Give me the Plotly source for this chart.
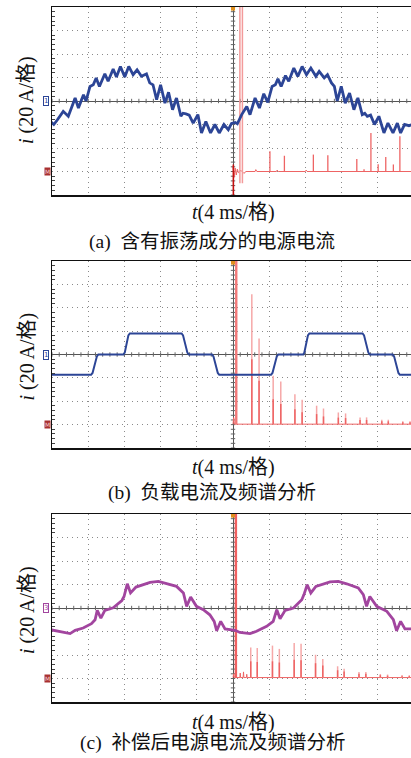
import plotly.graph_objects as go

W, H = 411, 758

# ---------------- data (units: oscilloscope divisions) ----------------
# (a) source current with oscillation
a_cur_x = [-5.05, -4.95, -4.85, -4.69, -4.55, -4.36, -4.27, -4.13, -4.06, -3.95, -3.86, -3.78, -3.69,
           -3.54, -3.45, -3.31, -3.22, -3.11, -2.99, -2.88, -2.76, -2.65, -2.53, -2.39, -2.30, -2.21,
           -2.11, -2.00, -1.88, -1.78, -1.67, -1.56, -1.44, -1.38, -1.30, -1.21, -1.10, -0.97, -0.87,
           -0.75, -0.62, -0.50, -0.38, -0.25, -0.13, -0.04, 0.06, 0.12, 0.24, 0.38, 0.47, 0.61, 0.73,
           0.85, 0.96, 1.08, 1.17, 1.24, 1.33, 1.45, 1.54, 1.68, 1.79, 1.91, 2.03, 2.15, 2.29, 2.38,
           2.52, 2.61, 2.72, 2.80, 2.88, 2.99, 3.10, 3.22, 3.34, 3.45, 3.57, 3.64, 3.71, 3.80, 3.91,
           4.03, 4.17, 4.28, 4.42, 4.54, 4.63, 4.74, 4.86, 4.95]
a_cur_y = [-0.86, -1.00, -0.80, -0.44, -0.65, 0.13, -0.30, 0.27, 0.00, 0.62, 0.69, 0.98, 0.62,
           1.16, 0.84, 1.36, 1.02, 1.47, 1.02, 1.47, 1.12, 1.33, 1.05, 1.15, 0.77, 0.69,
           0.06, 0.69, -0.09, 0.37, -0.37, 0.13, -0.65, -0.52, -0.55, -0.60, -0.94, -0.58, -1.36,
           -0.87, -1.36, -1.00, -1.36, -1.00, -1.22, -0.95, -0.91, -0.97, -0.58, -0.23, -0.58, 0.13, -0.30,
           0.31, -0.06, 0.62, 0.69, 0.94, 0.62, 1.08, 0.84, 1.40, 1.05, 1.47, 1.12, 1.40, 1.05, 1.26,
           0.98, 1.12, 0.77, 0.62, 0.00, 0.62, -0.09, 0.34, -0.37, 0.13, -0.58, -0.52, -0.65, -0.60, -1.00,
           -0.65, -1.36, -0.94, -1.36, -0.94, -1.36, -1.00, -1.05, -1.00]
a_base_x = [0.0, 0.03, 0.06, 0.09, 0.12, 0.15, 0.22, 0.30, 0.36, 0.61, 0.63, 0.66, 1.20, 1.22, 1.25,
            2.00, 2.02, 2.05, 4.95]
a_base_y = [-2.78, -3.25, -2.85, -3.15, -2.90, -3.05, -2.95, -3.08, -3.00, -3.00, -2.92, -3.00,
            -3.00, -2.94, -3.00, -3.00, -2.94, -3.00, -3.00]
a_spk_x = [1.02, 1.42, 2.22, 2.62, 3.42, 3.62, 3.81, 4.01, 4.22, 4.43, 4.61]
a_spk_top = [-2.14, -2.33, -2.28, -2.31, -2.47, -2.90, -1.36, -2.69, -2.38, -2.70, -1.50]

# (b) load current and spectrum
b_cur_x = [-5.05, -3.92, -3.88, -3.82, -3.76, -3.72, -3.03, -2.99, -2.94, -2.89, -2.85,
           -1.42, -1.38, -1.32, -1.26, -1.22, -0.58, -0.54, -0.48, -0.42, -0.38,
           1.05, 1.09, 1.15, 1.21, 1.25, 1.94, 1.97, 2.02, 2.07, 2.11,
           3.58, 3.62, 3.68, 3.74, 3.78, 4.41, 4.45, 4.51, 4.57, 4.61, 4.95]
b_cur_y = [-0.87, -0.87, -0.79, -0.44, -0.08, 0.00, 0.00, 0.08, 0.45, 0.82, 0.90,
           0.90, 0.82, 0.45, 0.08, 0.00, 0.00, -0.08, -0.44, -0.79, -0.87,
           -0.87, -0.79, -0.44, -0.08, 0.00, 0.00, 0.08, 0.45, 0.82, 0.90,
           0.90, 0.82, 0.45, 0.08, 0.00, 0.00, -0.08, -0.44, -0.79, -0.87, -0.87]
b_base_x = [0.0, 0.02, 0.04, 4.95]
b_base_y = [-2.98, -2.70, -2.98, -2.98]
b_spk_x = [0.52, 0.72, 1.11, 1.32, 1.71, 1.91, 2.31, 2.50, 2.91, 3.11, 3.51, 3.69, 4.11, 4.29, 4.69, 4.89]
b_spk_top = [2.58, 0.68, -0.91, -1.15, -1.70, -1.94, -2.19, -2.31, -2.48, -2.52, -2.69, -2.69,
             -2.79, -2.79, -2.86, -2.86]
b_spk_mid = [-0.20, -1.12, -1.91, -2.12, -2.34, -2.47, -2.55, -2.65, -2.70, -2.72, -2.80, -2.80,
             -2.86, -2.86, -2.90, -2.90]

# (c) compensated source current and spectrum
c_cur_x = [-5.06, -4.78, -4.50, -4.36, -4.14, -3.91, -3.81, -3.75, -3.65, -3.54, -3.31, -3.07, -3.01,
           -2.92, -2.83, -2.68, -2.48, -2.29, -2.06, -1.83, -1.56, -1.37, -1.28, -1.17, -1.01, -0.82,
           -0.64, -0.52, -0.45, -0.34, -0.22, 0.06, 0.19, 0.47, 0.65, 0.93, 1.11, 1.21, 1.30, 1.44,
           1.67, 1.90, 1.96, 2.05, 2.15, 2.29, 2.68, 2.91, 3.14, 3.46, 3.60, 3.69, 3.78, 3.97, 4.25,
           4.43, 4.52, 4.63, 4.75, 4.95]
c_cur_y = [-0.92, -1.02, -1.09, -0.95, -0.85, -0.67, -0.50, -0.10, -0.43, -0.10, 0.01, 0.32, 0.49,
           1.03, 0.64, 0.89, 0.99, 1.09, 1.13, 1.03, 0.92, 0.64, 0.07, 0.47, 0.07, -0.07,
           -0.29, -0.57, -0.97, -0.57, -0.89, -0.95, -1.04, -1.09, -0.99, -0.78, -0.57, -0.07, -0.46, -0.10,
           0.00, 0.35, 0.57, 0.99, 0.64, 0.92, 1.11, 1.13, 1.03, 0.85, 0.57, 0.07, 0.49, 0.07, -0.14,
           -0.50, -0.97, -0.57, -0.89, -0.89]
c_base_x = [0.0, 0.02, 0.04, 0.19, 0.20, 0.21, 0.28, 0.29, 0.30, 0.37, 0.38, 0.39, 4.95]
c_base_y = [-2.96, -2.80, -2.96, -2.96, -2.77, -2.96, -2.96, -2.72, -2.96, -2.96, -2.82, -2.96, -2.96]
c_spk_x = [0.49, 0.67, 1.09, 1.28, 1.69, 1.88, 2.28, 2.48, 2.89, 3.07, 3.48, 3.67, 4.07, 4.27, 4.67, 4.87]
c_spk_top = [-1.68, -1.70, -1.60, -1.74, -1.49, -1.52, -1.99, -2.17, -2.48, -2.58, -2.72, -2.72,
             -2.81, -2.83, -2.85, -2.86]
c_spk_mid = [-2.27, -2.30, -2.27, -2.32, -2.20, -2.22, -2.35, -2.45, -2.65, -2.70, -2.80, -2.80,
             -2.86, -2.88, -2.90, -2.90]

captions = ["(a)\u00a0\u00a0含有振荡成分的电源电流", "(b)\u00a0\u00a0负载电流及频谱分析", "(c)\u00a0\u00a0补偿后电源电流及频谱分析"]
ch_labels = ["1", "1", "3"]

# ---------------- layout geometry (pixels) ----------------
LEFT_PX = 52
CENTER_PX = 233
DIV_X = 36.2
XMAX = (W - CENTER_PX) / DIV_X
panels_px = [(7, 195), (261, 448), (514, 702)]   # top, bottom

BLUE = "#2c4596"
MAG = "#a2459f"
RED = "#ee6464"
PINK = "#f6a8a8"
SERIF = "Liberation Serif, Times New Roman, Noto Sans CJK SC"

fig = go.Figure()


def spikes(xs, tops, base):
    X, Y = [], []
    for x, t in zip(xs, tops):
        X += [x, x, None]
        Y += [base, t, None]
    return X, Y


def ticks_center():
    X, Y = [], []
    hx = 2.2 / DIV_X
    hy = 2.2 / 23.5
    k = -25
    while k <= 25:
        x = k * 0.2
        X += [x, x, None]
        Y += [-hy, hy, None]
        k += 1
    k = -20
    while k <= 20:
        y = k * 0.2
        X += [-hx, hx, None]
        Y += [y, y, None]
        k += 1
    return X, Y


tx, ty = ticks_center()


def ann(px, py, text, **kw):
    fig.add_annotation(x=px / W, y=1 - py / H, xref="paper", yref="paper", text=text,
                       showarrow=False, xanchor="center", yanchor="middle", **kw)


for i, (top, bot) in enumerate(panels_px):
    n = "" if i == 0 else str(i + 1)
    xa, ya = "x" + n, "y" + n
    fig.add_trace(go.Scatter(x=tx, y=ty, xaxis=xa, yaxis=ya, mode="lines",
                             line=dict(color="#666", width=1)))

    if i == 0:
        fig.add_trace(go.Scatter(x=a_base_x, y=a_base_y, xaxis=xa, yaxis=ya, mode="lines",
                                 line=dict(color=RED, width=1)))
        sx, sy = spikes(a_spk_x, a_spk_top, -3.0)
        fig.add_trace(go.Scatter(x=sx, y=sy, xaxis=xa, yaxis=ya, mode="lines",
                                 line=dict(color=RED, width=1.3)))
        fig.add_trace(go.Scatter(x=[0.19, 0.19, None, 0.26, 0.26], y=[4.2, -3.5, None, 4.2, -3.5],
                                 xaxis=xa, yaxis=ya, mode="lines", line=dict(color="#f39a9a", width=1.5)))
        fig.add_trace(go.Scatter(x=[0.01, 0.01], y=[-2.7, -4.0], xaxis=xa, yaxis=ya, mode="lines",
                                 line=dict(color="#c41010", width=1.6)))
        fig.add_trace(go.Scatter(x=a_cur_x, y=a_cur_y, xaxis=xa, yaxis=ya, mode="lines",
                                 line=dict(color=BLUE, width=2.8)))
    elif i == 1:
        fig.add_trace(go.Scatter(x=b_base_x, y=b_base_y, xaxis=xa, yaxis=ya, mode="lines",
                                 line=dict(color=RED, width=1)))
        sx, sy = spikes(b_spk_x, b_spk_top, -2.98)
        fig.add_trace(go.Scatter(x=sx, y=sy, xaxis=xa, yaxis=ya, mode="lines",
                                 line=dict(color=PINK, width=1.5)))
        sx, sy = spikes(b_spk_x, b_spk_mid, -2.98)
        fig.add_trace(go.Scatter(x=sx, y=sy, xaxis=xa, yaxis=ya, mode="lines",
                                 line=dict(color=RED, width=1.5)))
        fig.add_trace(go.Scatter(x=[0.09, 0.09], y=[4.2, -2.98], xaxis=xa, yaxis=ya, mode="lines",
                                 line=dict(color="#f27878", width=2.4)))
        fig.add_trace(go.Scatter(x=b_cur_x, y=b_cur_y, xaxis=xa, yaxis=ya, mode="lines",
                                 line=dict(color=BLUE, width=2)))
    else:
        fig.add_trace(go.Scatter(x=c_base_x, y=c_base_y, xaxis=xa, yaxis=ya, mode="lines",
                                 line=dict(color=RED, width=1)))
        sx, sy = spikes(c_spk_x, c_spk_top, -2.96)
        fig.add_trace(go.Scatter(x=sx, y=sy, xaxis=xa, yaxis=ya, mode="lines",
                                 line=dict(color=PINK, width=1.5)))
        sx, sy = spikes(c_spk_x, c_spk_mid, -2.96)
        fig.add_trace(go.Scatter(x=sx, y=sy, xaxis=xa, yaxis=ya, mode="lines",
                                 line=dict(color=RED, width=1.5)))
        fig.add_trace(go.Scatter(x=[0.08, 0.08], y=[4.2, -2.96], xaxis=xa, yaxis=ya, mode="lines",
                                 line=dict(color="#f06060", width=2.4)))
        fig.add_trace(go.Scatter(x=c_cur_x, y=c_cur_y, xaxis=xa, yaxis=ya, mode="lines",
                                 line=dict(color=MAG, width=2.8)))

    fig.add_trace(go.Scatter(x=[0], y=[3.93], xaxis=xa, yaxis=ya, mode="markers",
                             marker=dict(symbol="square", size=4, color="#e0901e")))

    y0 = 1 - bot / H
    y1 = 1 - top / H
    common = dict(showticklabels=False, showgrid=True, gridcolor="#8a8a8a", griddash="1px,4px",
                  gridwidth=1, zeroline=True, zerolinecolor="#555", zerolinewidth=1,
                  showline=True, linecolor="#111", linewidth=1.5, ticks="", fixedrange=True)
    fig.layout["xaxis" + n] = dict(domain=[LEFT_PX / W, 1], range=[-5, XMAX], dtick=1, tick0=0,
                                   mirror=True, anchor=ya, **common)
    fig.layout["yaxis" + n] = dict(domain=[y0, y1], range=[-4, 4], dtick=1, tick0=0, anchor=xa,
                                   minor=dict(ticks="inside", dtick=0.2, ticklen=3, tickcolor="#444",
                                              showgrid=False),
                                   **common)

    mid = (top + bot) / 2
    c_py = top + 4 * (bot - top) / 8
    m_py = top + 7 * (bot - top) / 8
    col = BLUE if i < 2 else MAG
    ann(46, c_py, ch_labels[i], font=dict(size=7, color=col, family="DejaVu Sans"),
        bordercolor=col, borderwidth=1, borderpad=0, bgcolor="white")
    ann(47, m_py, "M", font=dict(size=6, color="#f4d0d0", family="DejaVu Sans"),
        bgcolor="#a83030", borderpad=0)
    ann(27, mid + [-1, 2, 2][i], "<i>i</i>\u00a0(20 A/格)", textangle=-90,
        font=dict(size=20, color="#111", family=SERIF))
    ann(233, [212.5, 467, 722][i], "<i>t</i>(4 ms/格)", font=dict(size=20, color="#111", family=SERIF))
    ann(212, [242, 493, 743][i], captions[i], font=dict(size=19.5, color="#111", family=SERIF))

fig.update_layout(width=W, height=H, margin=dict(l=0, r=0, t=0, b=0),
                  paper_bgcolor="white", plot_bgcolor="white", showlegend=False)
fig.update_traces(hoverinfo="skip")
fig.write_html("out.html", config={"displayModeBar": False, "staticPlot": True})

# remove the default page margin so the figure sits at the window origin
with open("out.html", "r", encoding="utf-8") as f:
    html = f.read()
html = html.replace("<head>", "<head><style>html,body{margin:0;padding:0;overflow:hidden;}</style>", 1)
with open("out.html", "w", encoding="utf-8") as f:
    f.write(html)
